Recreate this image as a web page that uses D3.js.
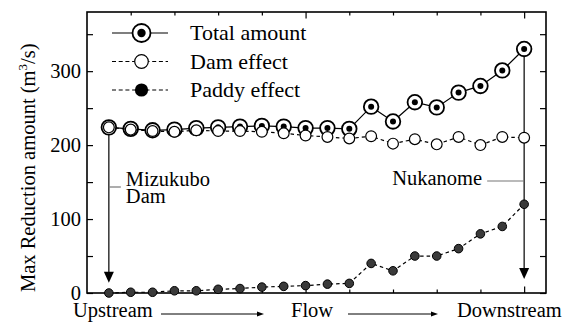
<!DOCTYPE html>
<meta charset="utf-8">
<style>
body { margin: 0; background: #fff; }
.frame { fill: none; stroke: #000; stroke-width: 1.6px; }
.axis path { display: none; }
.axis line { stroke: #000; stroke-width: 1.2px; }
.axis text { font-size: 20.5px; fill: #000; font-family: 'Liberation Serif', serif; }
.label { font-size: 20.5px; fill: #000; font-family: 'Liberation Serif', serif; }
.legend text { font-size: 22px; }
</style>
<svg width="562" height="322" font-family="Liberation Serif, serif"></svg>
<script src="https://d3js.org/d3.v7.min.js"></script>
<script>

// reading order from upstream (1) to downstream (20)
var station = d3.range(1, 21);
var total = [224, 222, 220, 221, 223, 224, 225, 226, 225, 223,
             223, 222, 252, 232, 258, 251, 271, 280, 301, 330];
var dam   = [224, 221, 219, 218, 220, 219, 219, 218, 216, 213,
             211, 209, 212, 202, 208, 201, 211, 200, 211, 210];
var paddy = [0, 1, 1, 3, 3, 5, 6, 8, 9, 10,
             12, 13, 40, 30, 50, 50, 60, 80, 90, 120];
var yTicks = [0, 50, 100, 150, 200, 250, 300, 350];
var xTicks = [2, 4, 6, 8, 10, 12, 14, 16, 18, 20];
var legendNames = ["Total amount", "Dam effect", "Paddy effect"];

var svg = d3.select("svg");
var mLeft = 87, mRight = 546, mTop = 12, mBottom = 293;

var x = d3.scaleLinear().domain([0, 21]).range([mLeft, mRight]);
var y = d3.scaleLinear().domain([0, 380]).range([mBottom, mTop]);

// axes, ticks pointing inward
var gB = svg.append("g").attr("class", "axis")
    .attr("transform", "translate(0," + mBottom + ")")
    .call(d3.axisBottom(x).tickValues(xTicks).tickSize(-3.5).tickFormat(""));
var gT = svg.append("g").attr("class", "axis")
    .attr("transform", "translate(0," + mTop + ")")
    .call(d3.axisTop(x).tickValues(xTicks).tickSize(-3.5).tickFormat(""));
gB.selectAll(".tick line").filter(function(d) { return d % 10 === 0; }).attr("y2", -6.5);
gT.selectAll(".tick line").filter(function(d) { return d % 10 === 0; }).attr("y2", 6.5);

svg.append("g").attr("class", "axis")
    .attr("transform", "translate(" + mLeft + ",0)")
    .call(d3.axisLeft(y).tickValues(yTicks).tickSize(-6).tickPadding(6)
      .tickFormat(function(d) { return d % 100 === 0 ? d : ""; }));
svg.append("g").attr("class", "axis")
    .attr("transform", "translate(" + mRight + ",0)")
    .call(d3.axisRight(y).tickValues(yTicks).tickSize(-6).tickFormat(""));
svg.selectAll(".axis").attr("font-family", null).attr("font-size", null);

svg.append("rect").attr("class", "frame")
    .attr("x", mLeft).attr("y", mTop)
    .attr("width", mRight - mLeft).attr("height", mBottom - mTop);

// y label
var yl = svg.append("text").attr("class", "label")
    .attr("transform", "translate(35,292) rotate(-90)");
yl.append("tspan").text("Max Reduction amount (m");
yl.append("tspan").attr("dy", -8).style("font-size", "13px").text("3");
yl.append("tspan").attr("dy", 8).text("/s)");

function arrowHead(g, tx, ty, w, h, dir) {
  // dir "down" or "right"
  var p = dir === "down"
    ? [[tx - w / 2, ty - h], [tx + w / 2, ty - h], [tx, ty]]
    : [[tx - h, ty - w / 2], [tx - h, ty + w / 2], [tx, ty]];
  g.append("path").attr("d", "M" + p.join("L") + "Z").attr("fill", "#000");
}

// annotation arrows (behind markers)
var ann = svg.append("g");
var xa = x(station[0]), xb = x(station[19]);
ann.append("line").attr("x1", xa).attr("x2", xa)
    .attr("y1", y(total[0])).attr("y2", y(14) - 4)
    .attr("stroke", "#000").attr("stroke-width", 1.2);
arrowHead(ann, xa, y(14), 10, 11, "down");
ann.append("line").attr("x1", xb).attr("x2", xb)
    .attr("y1", y(total[19])).attr("y2", y(19) - 4)
    .attr("stroke", "#000").attr("stroke-width", 1.2);
arrowHead(ann, xb, y(19), 10, 11, "down");

ann.append("line").attr("x1", xa).attr("x2", xa + 12)
    .attr("y1", 187).attr("y2", 187).attr("stroke", "#777").attr("stroke-width", 1.2);
ann.append("text").attr("class", "label").attr("x", xa + 17).attr("y", 186).text("Mizukubo");
ann.append("text").attr("class", "label").attr("x", xa + 17).attr("y", 203).text("Dam");
ann.append("line").attr("x1", xb - 37).attr("x2", xb)
    .attr("y1", 181).attr("y2", 181).attr("stroke", "#777").attr("stroke-width", 1.2);
ann.append("text").attr("class", "label").attr("x", xb - 42).attr("y", 185)
    .attr("text-anchor", "end").text("Nukanome");

// series
var line = d3.line().x(function(d, i) { return x(station[i]); }).y(function(d) { return y(d); });

svg.append("path").attr("d", line(paddy)).attr("fill", "none")
    .attr("stroke", "#000").attr("stroke-width", 1.2).attr("stroke-dasharray", "3.5,3");
svg.append("g").selectAll("circle").data(paddy).join("circle")
    .attr("cx", function(d, i) { return x(station[i]); })
    .attr("cy", function(d) { return y(d); })
    .attr("r", 4.3).attr("fill", "#3a3a3a").attr("stroke", "#000").attr("stroke-width", 1);

svg.append("path").attr("d", line(total)).attr("fill", "none")
    .attr("stroke", "#000").attr("stroke-width", 1.2);
var tg = svg.append("g").selectAll("g").data(total).join("g")
    .attr("transform", function(d, i) { return "translate(" + x(station[i]) + "," + y(d) + ")"; });
tg.append("circle").attr("r", 7.3).attr("fill", "#fff").attr("stroke", "#000").attr("stroke-width", 1.8);
tg.append("circle").attr("r", 3).attr("fill", "#000");

svg.append("path").attr("d", line(dam)).attr("fill", "none")
    .attr("stroke", "#000").attr("stroke-width", 1.2).attr("stroke-dasharray", "3.5,3");
svg.append("g").selectAll("circle").data(dam).join("circle")
    .attr("cx", function(d, i) { return x(station[i]); })
    .attr("cy", function(d) { return y(d); })
    .attr("r", 5.4).attr("fill", "#fff").attr("stroke", "#000").attr("stroke-width", 1.2);

// legend
var lg = svg.append("g").attr("class", "legend").selectAll("g").data(legendNames).join("g")
    .attr("transform", function(d, i) { return "translate(112," + (33 + i * 28.5) + ")"; });
lg.append("line").attr("x1", 0).attr("x2", 56)
    .attr("stroke", "#000").attr("stroke-width", 1.2)
    .attr("stroke-dasharray", function(d, i) { return i === 0 ? null : "4,2.7"; });
lg.filter(function(d, i) { return i === 0; }).append("circle")
    .attr("cx", 29.5).attr("r", 9).attr("fill", "#fff").attr("stroke", "#000").attr("stroke-width", 1.8);
lg.filter(function(d, i) { return i === 0; }).append("circle")
    .attr("cx", 29.5).attr("r", 4.2).attr("fill", "#000");
lg.filter(function(d, i) { return i === 1; }).append("circle")
    .attr("cx", 29.5).attr("r", 6.8).attr("fill", "#fff").attr("stroke", "#000").attr("stroke-width", 1.2);
lg.filter(function(d, i) { return i === 2; }).append("circle")
    .attr("cx", 29.5).attr("r", 6.6).attr("fill", "#000");
lg.append("text").attr("class", "label").attr("x", 78).attr("dy", "0.33em")
    .text(function(d) { return d; });

// flow direction under the axis
var fl = svg.append("g");
fl.append("text").attr("class", "label").attr("x", 73).attr("y", 317).text("Upstream");
fl.append("text").attr("class", "label").attr("x", 291).attr("y", 317).text("Flow");
fl.append("text").attr("class", "label").attr("x", 457).attr("y", 317).text("Downstream");
fl.append("line").attr("x1", 161).attr("x2", 258).attr("y1", 314).attr("y2", 314)
    .attr("stroke", "#000").attr("stroke-width", 1);
arrowHead(fl, 264, 314, 5, 7, "right");
fl.append("line").attr("x1", 348).attr("x2", 432).attr("y1", 314).attr("y2", 314)
    .attr("stroke", "#000").attr("stroke-width", 1);
arrowHead(fl, 438, 314, 5, 7, "right");

</script>
